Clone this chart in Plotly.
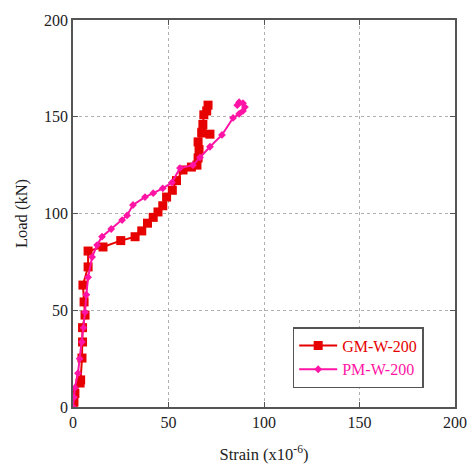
import plotly.graph_objects as go

gm_x = [0, 0.5, 1, 3.7, 4, 4.7, 5, 5, 6.3, 5.8, 5.2, 7.9, 7.9, 15.7, 25, 32.5, 36, 39, 42, 44.5, 47, 49, 52, 54.2,
        57.6, 62, 64.9, 65.5, 66, 65.5, 67.5, 71.7, 67.5, 68, 68.5, 70, 70.7]
gm_y = [0, 2.6, 7, 12.4, 14, 25.3, 33.6, 41, 47.5, 54.3, 63, 72.4, 80.6, 82.7, 86, 88, 91, 95, 98, 100.8, 104, 108.5,
        112, 117, 122.5, 124, 125, 128.7, 133, 137, 141.6, 141, 142, 146, 151, 153, 156]

pm_x = [0, 0.5, 1, 2.6, 3.5, 4.7, 5.5, 6.3, 7, 7.9, 10, 12.6, 15.2, 20, 25.7, 28.3, 31.4, 37.7, 42, 47, 51.8, 56,
        62.8, 66.5, 71.7, 78, 83.8, 87, 89, 90, 89, 87, 86]
pm_y = [0, 5, 10, 17.5, 25, 33.6, 41, 49, 58, 67, 77.5, 83.7, 88, 92, 96.6, 99, 104.4, 108.5, 110.5, 113, 116, 123.5,
        125, 129, 134.5, 140.6, 149.4, 151.5, 153, 155, 157, 157.5, 156]

x_ticks = [0, 50, 100, 150, 200]
y_ticks = [0, 50, 100, 150, 200]

RED = "#e60000"
MAG = "#ff14a5"
FONT = "Liberation Serif"

fig = go.Figure()
fig.add_trace(go.Scatter(
    x=gm_x, y=gm_y, mode="lines+markers",
    name=f"<span style='color:{RED}'>GM-W-200</span>",
    line=dict(color=RED, width=2),
    marker=dict(symbol="square", size=9, color=RED),
))
fig.add_trace(go.Scatter(
    x=pm_x, y=pm_y, mode="lines+markers",
    name=f"<span style='color:{MAG}'>PM-W-200</span>",
    line=dict(color=MAG, width=2),
    marker=dict(symbol="diamond", size=6, color=MAG),
))

axis_common = dict(
    showgrid=True, gridcolor="#b0b0b0", griddash="dot", gridwidth=1,
    showline=True, linecolor="#555555", linewidth=1.5, mirror="ticks",
    ticks="inside", ticklen=5, tickcolor="#555555",
    zeroline=False, automargin=False,
    tickfont=dict(family=FONT, size=16, color="#222222"),
)

fig.update_layout(
    width=470, height=472,
    margin=dict(l=73, r=15, t=20, b=65),
    paper_bgcolor="white", plot_bgcolor="white",
    font=dict(family=FONT, size=16, color="#222222"),
    xaxis=dict(range=[0, 200], tickvals=x_ticks, ticktext=[str(v) for v in x_ticks],
               title=dict(text="Strain (x10<sup>-6</sup>)", font=dict(family=FONT, size=16.5), standoff=18),
               **axis_common),
    yaxis=dict(range=[0, 200], tickvals=y_ticks, ticktext=[str(v) for v in y_ticks],
               title=dict(text="Load (kN)", font=dict(family=FONT, size=16.5), standoff=12),
               **axis_common),
    legend=dict(x=0.918, y=0.049, xanchor="right", yanchor="bottom",
                bgcolor="white", bordercolor="#555555", borderwidth=1.5,
                font=dict(family=FONT, size=16), itemwidth=38, tracegroupgap=0),
    showlegend=True,
)

fig.write_html("out.html", config={"displayModeBar": False},
               post_script="document.body.style.margin='0';document.body.style.padding='0';")
